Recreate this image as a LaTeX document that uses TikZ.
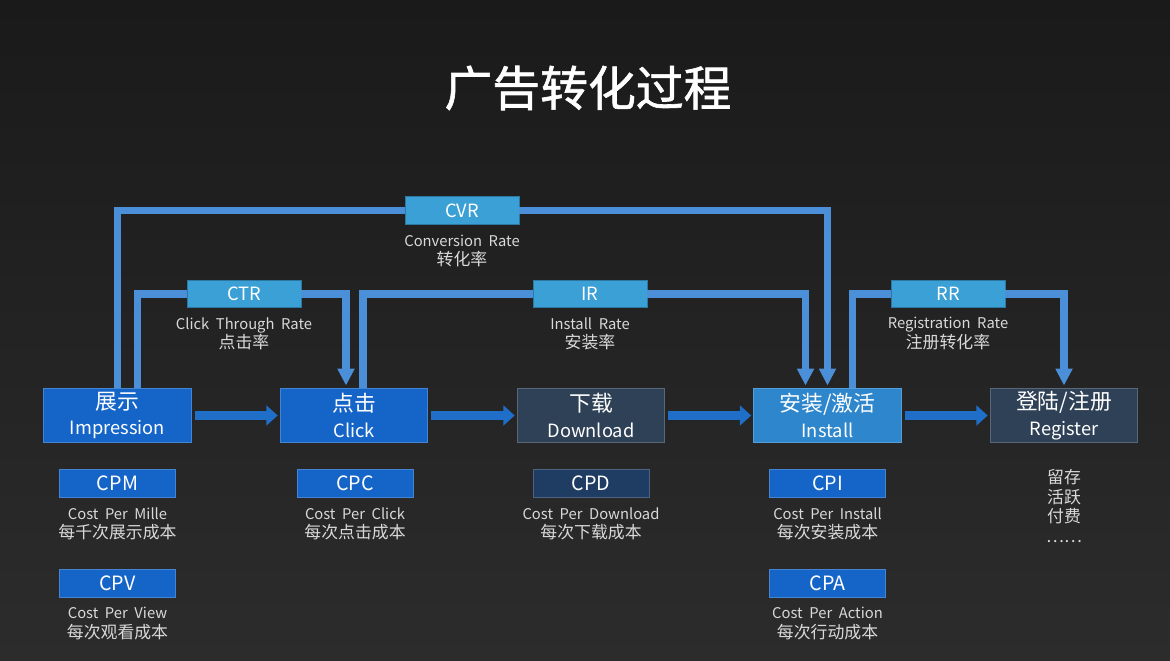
\documentclass[tikz,border=0pt]{standalone}
\usepackage{fontspec}
\setmainfont{Noto Sans CJK SC}
\newfontfamily\notefont[WordSpace=2]{Noto Sans CJK SC}
\newfontfamily\titlefont[FakeBold=1.3]{Noto Sans CJK SC}
\usetikzlibrary{arrows.meta,positioning,calc}

\definecolor{bgtop}{HTML}{1A1A1A}
\definecolor{bgbot}{HTML}{2C2C2C}
\definecolor{stageblue}{HTML}{1565C8}
\definecolor{stagelight}{HTML}{2E86CC}
\definecolor{stagedark}{HTML}{2F4156}
\definecolor{costdark}{HTML}{1F3D63}
\definecolor{rateblue}{HTML}{3AA0D5}
\definecolor{linkblue}{HTML}{4A8FD8}
\definecolor{flowblue}{HTML}{1F6FC9}
\definecolor{notegray}{HTML}{D9D9D9}

\begin{document}
\begin{tikzpicture}[x=0.025cm, y=-0.025cm,
        stage/.style={draw=#1!80!white, line width=0.6pt, fill=#1, text=white,
          minimum width=105pt, minimum height=39pt, inner sep=0pt, align=center,
          font=\fontsize{13}{18}\selectfont},
        cost/.style={draw=#1!80!white, line width=0.6pt, fill=#1, text=white,
          minimum width=82.5pt, minimum height=20pt, inner sep=0pt,
          font=\fontsize{14}{14}\selectfont},
        link/.style={draw=linkblue, line width=5.6pt},
        flow/.style={draw=flowblue, line width=6.4pt, -{Triangle[width=14pt,length=8pt]},
          shorten <=2pt, shorten >=1.5pt}]
      \tikzstyle{rate} = [draw=rateblue!75!black, line width=0.6pt, fill=rateblue, text=white,
        minimum width=81pt, minimum height=19.5pt, inner sep=0pt, font=\fontsize{13}{13}\selectfont]
      \tikzstyle{note} = [text=notegray, align=center, inner sep=0pt, font=\notefont\fontsize{10.5}{14}\selectfont]
      \tikzstyle{into} = [-{Triangle[width=11.5pt,length=12pt]}, shorten >=1.5pt]

      \shade[top color=bgtop, bottom color=bgbot] (0,0) rectangle (1170,661);
      \useasboundingbox (0,0) rectangle (1170,661);

      \node (title) [text=white, font=\titlefont\fontsize{34}{34}\selectfont] at (588,88) {广告转化过程};

      \node (show) [stage=stageblue] at (117.5,415.5) {{\fontsize{15.5}{17}\selectfont 展示}\\Impression};
      \node (click) [stage=stageblue] at (354,415.5) {{\fontsize{15.5}{17}\selectfont 点击}\\Click};
      \node (download) [stage=stagedark] at (591,415.5) {{\fontsize{15.5}{17}\selectfont 下载}\\Download};
      \node (install) [stage=stagelight] at (827.5,415.5) {{\fontsize{15.5}{17}\selectfont 安装/激活}\\Install};
      \node (register) [stage=stagedark] at (1064,415.5) {{\fontsize{15.5}{17}\selectfont 登陆/注册}\\Register};

      \draw[flow] (show) -- (click);
      \draw[flow] (click) -- (download);
      \draw[flow] (download) -- (install);
      \draw[flow] (install) -- (register);

      \node (cvr) [rate] at (462,210.5) {CVR};
      \node (ctr) [rate] at (244,294) {CTR};
      \node (ir) [rate] at (590,294) {IR};
      \node (rr) [rate] at (948,294) {RR};

      \node (cvrnote) [note, below=7pt of cvr] {Conversion Rate\\{\fontsize{12}{14}\selectfont 转化率}};
      \node (ctrnote) [note, below=6.5pt of ctr] {Click Through Rate\\{\fontsize{12}{14}\selectfont 点击率}};
      \node (irnote) [note, below=6.5pt of ir] {Install Rate\\{\fontsize{12}{14}\selectfont 安装率}};
      \node (rrnote) [note, below=6.5pt of rr] {Registration Rate\\{\fontsize{12}{14}\selectfont 注册转化率}};

      \draw[link] (show.north) |- (cvr.west);
      \draw[link, into] (cvr.east) -| (install.north);
      \draw[link] ($(show.north)+(20,0)$) |- (ctr.west);
      \draw[link, into] (ctr.east) -| ($(click.north)+(-8,0)$);
      \draw[link] ($(click.north)+(9,0)$) |- (ir.west);
      \draw[link, into] (ir.east) -| ($(install.north)+(-22,0)$);
      \draw[link] ($(install.north)+(25,0)$) |- (rr.west);
      \draw[link, into] (rr.east) -| (register.north);

      \node (cpm) [cost=stageblue] at (117.5,483.5) {CPM};
      \node (cpc) [cost=stageblue] at (355,483.5) {CPC};
      \node (cpd) [cost=costdark] at (591,483.5) {CPD};
      \node (cpi) [cost=stageblue] at (827.5,483.5) {CPI};
      \node (cpv) [cost=stageblue] at (117.5,583.5) {CPV};
      \node (cpa) [cost=stageblue] at (827.5,583.5) {CPA};

      \node (cpmnote) [note, below=6.5pt of cpm] {Cost Per Mille\\{\fontsize{12}{14}\selectfont 每千次展示成本}};
      \node (cpcnote) [note, below=6.5pt of cpc] {Cost Per Click\\{\fontsize{12}{14}\selectfont 每次点击成本}};
      \node (cpdnote) [note, below=6.5pt of cpd] {Cost Per Download\\{\fontsize{12}{14}\selectfont 每次下载成本}};
      \node (cpinote) [note, below=6.5pt of cpi] {Cost Per Install\\{\fontsize{12}{14}\selectfont 每次安装成本}};
      \node (cpvnote) [note, below=6.5pt of cpv] {Cost Per View\\{\fontsize{12}{14}\selectfont 每次观看成本}};
      \node (cpanote) [note, below=6.5pt of cpa] {Cost Per Action\\{\fontsize{12}{14}\selectfont 每次行动成本}};

      \node (after) [note, font=\fontsize{12}{14}\selectfont] at (1064,506) {留存\\活跃\\付费\\……};
    \end{tikzpicture}
\end{document}
